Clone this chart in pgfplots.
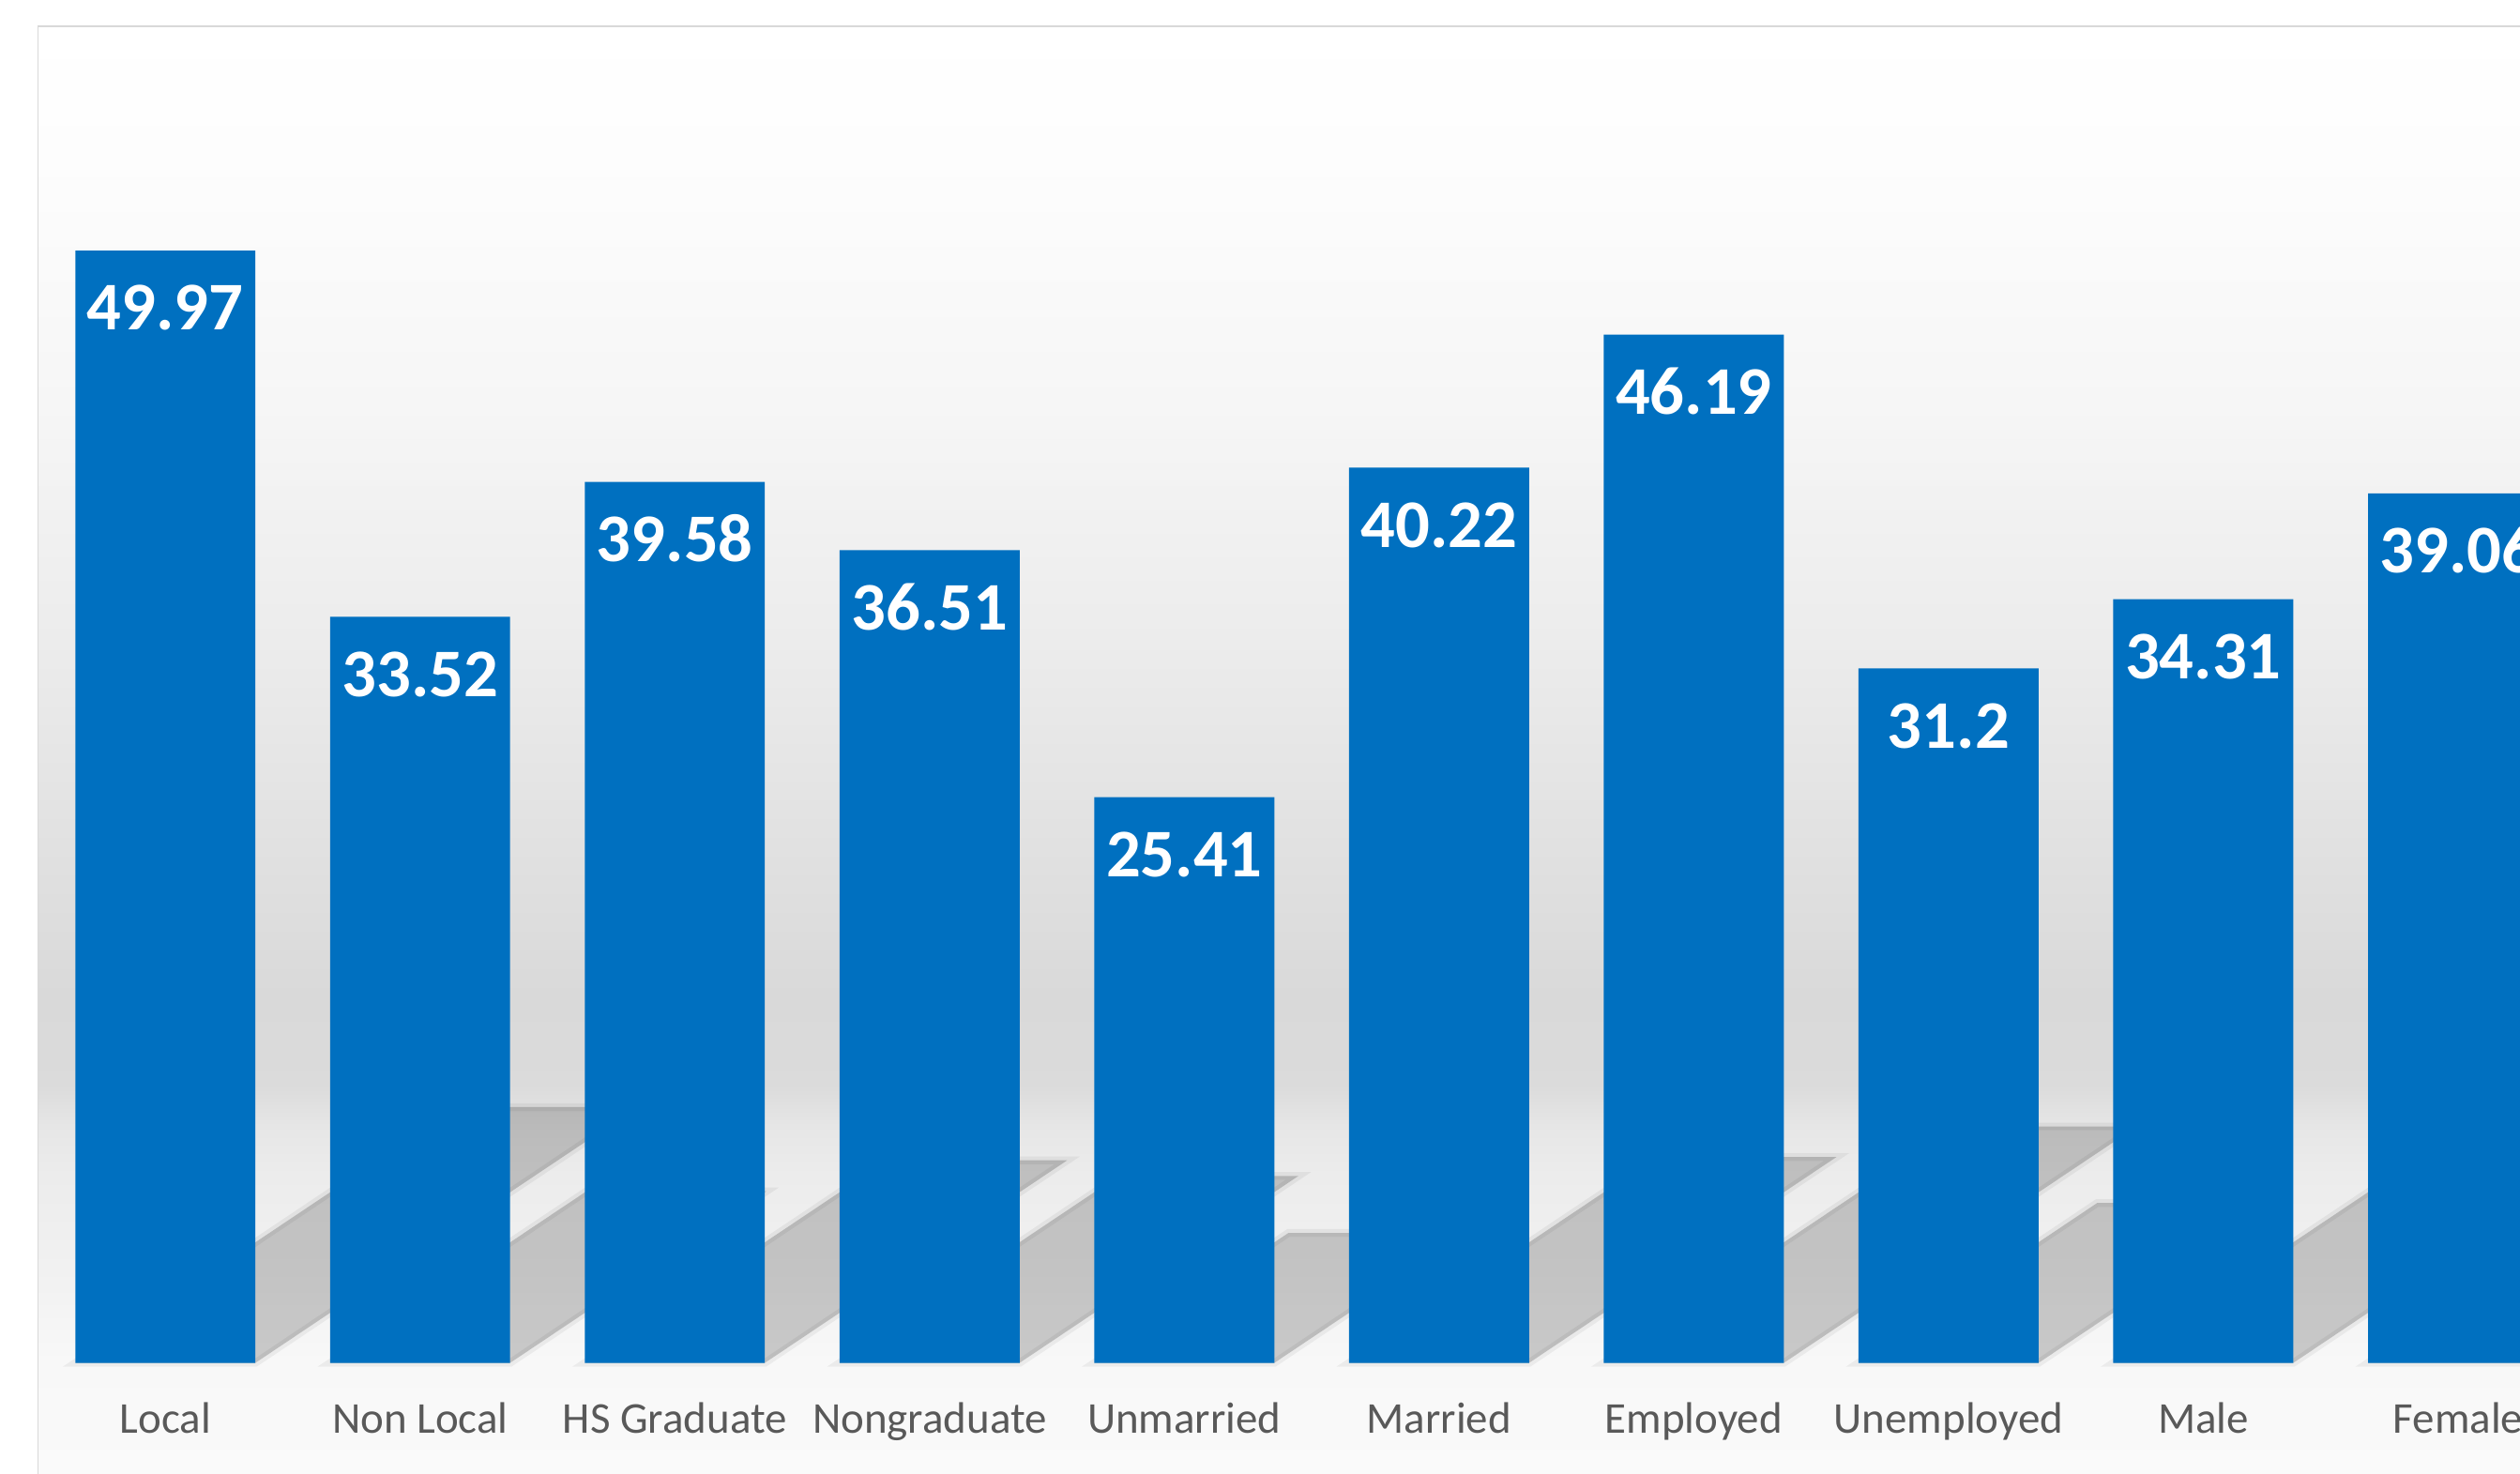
\documentclass[border=0pt]{standalone}
\usepackage{fontspec}
\setmainfont{Carlito}
\usepackage{pgfplots}
\pgfplotsset{compat=1.18}
\definecolor{barblue}{HTML}{0070C0}
\definecolor{lbl}{HTML}{595959}
\definecolor{brd}{HTML}{D9D9D9}
\pgfdeclareverticalshading{chartbg}{100bp}{%
rgb(0bp)=(0.980,0.980,0.980);
rgb(25bp)=(0.980,0.980,0.980);
rgb(28.83bp)=(0.973,0.973,0.973);
rgb(31.5bp)=(0.949,0.949,0.949);
rgb(35.38bp)=(0.925,0.925,0.925);
rgb(37.05bp)=(0.902,0.902,0.902);
rgb(38.44bp)=(0.858,0.858,0.858);
rgb(41.49bp)=(0.851,0.851,0.851);
rgb(45.93bp)=(0.878,0.878,0.878);
rgb(53.71bp)=(0.925,0.925,0.925);
rgb(62.04bp)=(0.965,0.965,0.965);
rgb(70.36bp)=(0.992,0.992,0.992);
rgb(75bp)=(1,1,1);
rgb(100bp)=(1,1,1)}
\pgfplotsset{shadowstyle/.style={draw=black, draw opacity=0.05, line width=1.2pt, fill=black, fill opacity=0.19, forget plot}}
\begin{document}
\begin{tikzpicture}
\begin{axis}[
  name=ax, at={(0,0)}, anchor=south west,
  scale only axis, width=392pt, height=229.25pt,
  xmin=-0.6492, xmax=9.2435, ymin=-4.982, ymax=61.227,
  axis on top,
  axis line style={draw=none}, tick style={draw=none}, major tick length=0pt,
  ytick=\empty,
  xtick={0,1,2,3,4,5,6,7,8,9},
  xticklabels={Local, Non Local, HS Graduate, Nongraduate, Unmarried, Married, Employed, Unemployed, Male, Female},
  xticklabel style={anchor=base, yshift=6.25pt, font=\fontsize{6.85}{8}\selectfont, text=lbl},
  clip=true]
\shade[shading=chartbg] (axis cs:-0.4997,-4.982) rectangle (axis cs:9.2435,60.04);
\draw[brd, line width=0.25pt] (axis cs:-0.4997,-8) -- (axis cs:-0.4997,60.04) -- (axis cs:9.5,60.04);
% shadows
\addplot[shadowstyle] coordinates {(-0.3533,0) (0.3533,0) (1.852,11.49) (1.146,11.49)} --cycle;
\addplot[shadowstyle] coordinates {(0.6467,0) (1.3533,0) (2.359,7.71) (1.653,7.71)} --cycle;
\addplot[shadowstyle] coordinates {(1.6467,0) (2.3533,0) (3.540,9.10) (2.834,9.10)} --cycle;
\addplot[shadowstyle] coordinates {(2.6467,0) (3.3533,0) (4.448,8.40) (3.742,8.40)} --cycle;
\addplot[shadowstyle] coordinates {(3.6467,0) (4.3533,0) (5.115,5.84) (4.409,5.84)} --cycle;
\addplot[shadowstyle] coordinates {(4.6467,0) (5.3533,0) (6.560,9.25) (5.854,9.25)} --cycle;
\addplot[shadowstyle] coordinates {(5.6467,0) (6.3533,0) (7.739,10.62) (7.033,10.62)} --cycle;
\addplot[shadowstyle] coordinates {(6.6467,0) (7.3533,0) (8.289,7.18) (7.583,7.18)} --cycle;
\addplot[shadowstyle] coordinates {(7.6467,0) (8.3533,0) (9.382,7.89) (8.676,7.89)} --cycle;
\addplot[shadowstyle] coordinates {(8.6467,0) (9.3533,0) (10.525,8.98) (9.819,8.98)} --cycle;
% bars
\addplot[ybar, bar width=0.7066, fill=barblue, draw=none,
  point meta=explicit symbolic, nodes near coords,
  every node near coord/.append style={anchor=base, yshift=-12.4pt, text=white, font=\fontsize{10.6}{12}\selectfont\bfseries}]
  coordinates {(0,49.97)[49.97] (1,33.52)[33.52] (2,39.58)[39.58] (3,36.51)[36.51] (4,25.41)[25.41]
               (5,40.22)[40.22] (6,46.19)[46.19] (7,31.2)[31.2] (8,34.31)[34.31] (9,39.06)[39.06]};
\end{axis}
\pgfresetboundingbox
\path[use as bounding box] (ax.south west) rectangle (ax.north east);
\end{tikzpicture}
\end{document}
